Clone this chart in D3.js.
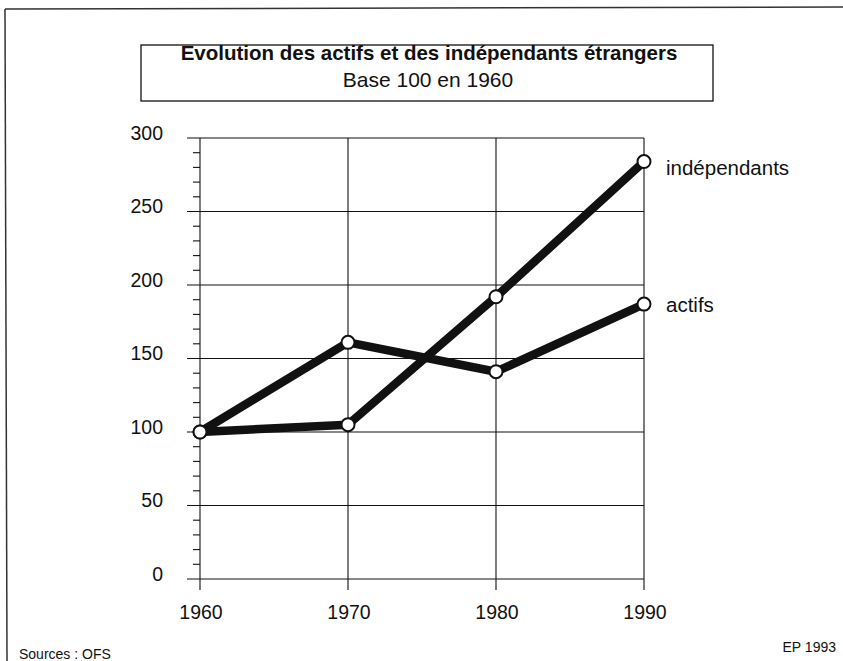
<!DOCTYPE html>
<html>
<head>
<meta charset="utf-8">
<script src="https://cdn.jsdelivr.net/npm/d3@7"></script>
<style>
  body { margin: 0; background: #fff; }
  svg { display: block; font-family: "Liberation Sans", Arial, sans-serif; }
</style>
</head>
<body>
<svg id="chart" width="843" height="661"></svg>
<script>
var years = [1960, 1970, 1980, 1990];
var actifs = [100, 161, 141, 187];
var independants = [100, 105, 192, 284];
var yTicks = [0, 50, 100, 150, 200, 250, 300];
var seriesNames = ["actifs", "indépendants"];

var svg = d3.select("#chart");
var ink = "#111";

// scanned page frame (top and left only)
svg.append("line").attr("x1", 5).attr("y1", 9).attr("x2", 843).attr("y2", 7)
    .attr("stroke", "#333").attr("stroke-width", 1.5);
svg.append("line").attr("x1", 5).attr("y1", 9).attr("x2", 7).attr("y2", 661)
    .attr("stroke", "#333").attr("stroke-width", 1.5);

// title box
svg.append("rect").attr("x", 141).attr("y", 45).attr("width", 572).attr("height", 56)
    .attr("fill", "none").attr("stroke", ink).attr("stroke-width", 1.3);
svg.append("text").attr("x", 429).attr("y", 60).attr("text-anchor", "middle")
    .attr("font-size", 20.5).attr("font-weight", "bold").attr("fill", ink)
    .text("Evolution des actifs et des indépendants étrangers");
svg.append("text").attr("x", 428).attr("y", 87).attr("text-anchor", "middle")
    .attr("font-size", 21).attr("fill", ink)
    .text("Base 100 en 1960");

var x = d3.scaleLinear().domain([1960, 1990]).range([200, 644]);
var y = d3.scaleLinear().domain([0, 300]).range([579, 138]);

var g = svg.append("g");

// horizontal grid lines, extending left of axis
g.selectAll(".hgrid").data(yTicks).enter().append("line")
    .attr("x1", 187).attr("x2", x(1990))
    .attr("y1", function(d) { return y(d); }).attr("y2", function(d) { return y(d); })
    .attr("stroke", ink).attr("stroke-width", 1.1);

// vertical lines at each year, extending below zero
g.selectAll(".vgrid").data(years).enter().append("line")
    .attr("x1", function(d) { return x(d); }).attr("x2", function(d) { return x(d); })
    .attr("y1", y(300)).attr("y2", 590)
    .attr("stroke", ink).attr("stroke-width", 1.1);

// minor ticks every 10
var minor = d3.range(0, 301, 10).filter(function(d) { return d % 50 !== 0; });
g.selectAll(".minor").data(minor).enter().append("line")
    .attr("x1", 193).attr("x2", x(1960))
    .attr("y1", function(d) { return y(d); }).attr("y2", function(d) { return y(d); })
    .attr("stroke", ink).attr("stroke-width", 1.1);

// y tick labels
g.selectAll(".ylab").data(yTicks).enter().append("text")
    .attr("x", 163).attr("y", function(d) { return y(d) - 5; })
    .attr("dy", "0.35em").attr("text-anchor", "end")
    .attr("font-size", 19.5).attr("fill", ink)
    .text(function(d) { return d; });

// x tick labels
g.selectAll(".xlab").data(years).enter().append("text")
    .attr("x", function(d) { return x(d) + 1; }).attr("y", 612)
    .attr("dy", "0.35em").attr("text-anchor", "middle")
    .attr("font-size", 19.5).attr("fill", ink)
    .text(function(d) { return d; });

var line = d3.line()
    .x(function(d, i) { return x(years[i]); })
    .y(function(d) { return y(d); });

[actifs, independants].forEach(function(vals) {
  g.append("path").datum(vals)
      .attr("d", line)
      .attr("fill", "none").attr("stroke", ink)
      .attr("stroke-width", 8.5).attr("stroke-linejoin", "round");
});

[actifs, independants].forEach(function(vals) {
  g.selectAll(null).data(vals).enter().append("circle")
      .attr("cx", function(d, i) { return x(years[i]); })
      .attr("cy", function(d) { return y(d); })
      .attr("r", 6.5)
      .attr("fill", "#fff").attr("stroke", ink).attr("stroke-width", 2);
});

// series labels at the right end
var ends = [actifs[3], independants[3]];
g.selectAll(".slab").data(seriesNames).enter().append("text")
    .attr("x", 666).attr("y", function(d, i) { return y(ends[i]) + (i === 1 ? 6 : 1); })
    .attr("dy", "0.35em").attr("font-size", 20.5).attr("fill", ink)
    .text(function(d) { return d; });

// footer
svg.append("text").attr("x", 19).attr("y", 659).attr("font-size", 14).attr("fill", ink)
    .text("Sources : OFS");
svg.append("text").attr("x", 836).attr("y", 652).attr("text-anchor", "end")
    .attr("font-size", 14).attr("fill", ink)
    .text("EP 1993");
</script>
</body>
</html>
